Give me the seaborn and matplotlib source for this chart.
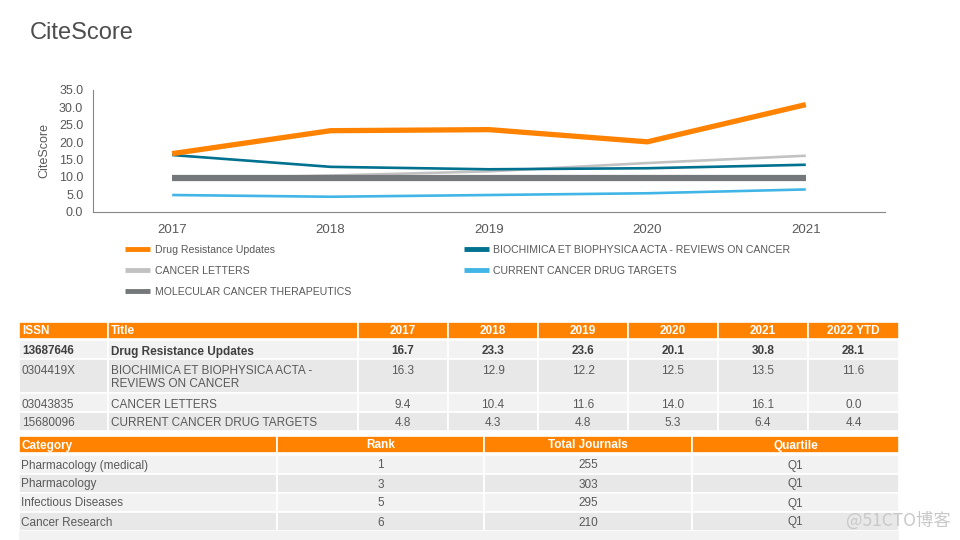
import matplotlib
matplotlib.use("Agg")
import matplotlib.pyplot as plt
from matplotlib.patches import Rectangle
from matplotlib.lines import Line2D
import seaborn as sns
import pandas as pd

# ---------------- data ----------------
years = ["2017", "2018", "2019", "2020", "2021"]
journals = [
    "Drug Resistance Updates",
    "BIOCHIMICA ET BIOPHYSICA ACTA - REVIEWS ON CANCER",
    "CANCER LETTERS",
    "CURRENT CANCER DRUG TARGETS",
    "MOLECULAR CANCER THERAPEUTICS",
]
dru = [16.7, 23.3, 23.6, 20.1, 30.8]
bba = [16.3, 12.9, 12.2, 12.5, 13.5]
cl = [9.4, 10.4, 11.6, 14.0, 16.1]
ccdt = [4.8, 4.3, 4.8, 5.3, 6.4]
mct = [9.8, 9.8, 9.8, 9.8, 9.8]

table_cols = ["ISSN", "Title", "2017", "2018", "2019", "2020", "2021", "2022 YTD"]
issns = ["13687646", "0304419X", "03043835", "15680096"]
titles = ["Drug Resistance Updates", "BIOCHIMICA ET BIOPHYSICA ACTA -\nREVIEWS ON CANCER",
          "CANCER LETTERS", "CURRENT CANCER DRUG TARGETS"]
ytd2022 = [28.1, 11.6, 0.0, 4.4]

cat_cols = ["Category", "Rank", "Total Journals", "Quartile"]
categories = ["Pharmacology (medical)", "Pharmacology", "Infectious Diseases", "Cancer Research"]
ranks = [1, 3, 5, 6]
totals = [255, 303, 295, 210]
quartiles = ["Q1", "Q1", "Q1", "Q1"]

colors = {
    journals[0]: "#FF8200",
    journals[1]: "#00718F",
    journals[2]: "#C2C2C2",
    journals[3]: "#41B6E6",
    journals[4]: "#75787B",
}
widths = {journals[0]: 3.8, journals[1]: 1.9, journals[2]: 1.9, journals[3]: 1.9, journals[4]: 4.5}

series = [dru, bba, cl, ccdt, mct]
df = pd.DataFrame([(j, y, v) for j, vals in zip(journals, series) for y, v in zip(years, vals)],
                  columns=["journal", "year", "value"])

# ---------------- style ----------------
sns.set_style("white")
plt.rcParams["font.family"] = ["Liberation Sans", "DejaVu Sans"]

W, H = 960, 540
fig = plt.figure(figsize=(9.6, 5.4), dpi=100)

def fx(px):
    return px / W

def fy(py):
    return 1 - py / H

# main axes
ax_l, ax_r, ax_t, ax_b = 93, 885, 90, 211.7
ax = fig.add_axes([fx(ax_l), fy(ax_b), fx(ax_r - ax_l), (ax_b - ax_t) / H])
sns.lineplot(data=df, x="year", y="value", hue="journal", size="journal",
             hue_order=journals, palette=colors, sizes=widths, size_order=journals,
             sort=False, ax=ax, legend=False)
zorders = {journals[0]: 6, journals[1]: 3, journals[2]: 2, journals[3]: 3, journals[4]: 4}
for ln, j in zip(ax.get_lines(), journals):
    ln.set_solid_capstyle("butt")
    ln.set_zorder(zorders[j])

ax.set_xlim(-0.5, 4.5)
ax.set_ylim(0, 35)
yt = [0, 5, 10, 15, 20, 25, 30, 35]
ax.set_yticks(yt)
ax.set_yticklabels([f"{v:.1f}" for v in yt])
ax.set_xticks(range(5))
ax.set_xticklabels(years)
ax.set_xticks([-0.5, 0.5, 1.5, 2.5, 3.5, 4.5], minor=True)
ax.tick_params(axis="x", which="major", length=0, pad=9, labelsize=9.5, labelcolor="#595959")
ax.tick_params(axis="x", which="minor", length=4, color="#868686", width=0.8, direction="out")
ax.tick_params(axis="y", length=4, color="#868686", width=0.8, direction="out",
               labelsize=9, labelcolor="#595959", pad=3)
ax.set_xlabel("")
ax.set_ylabel("CiteScore", fontsize=9, color="#595959", labelpad=6)
for s in ["top", "right"]:
    ax.spines[s].set_visible(False)
for s in ["left", "bottom"]:
    ax.spines[s].set_color("#868686")
    ax.spines[s].set_linewidth(0.8)

# legend
order = [journals[0], journals[2], journals[4], journals[1], journals[3]]
handles = [Line2D([], [], color=colors[j], lw=3.5, solid_capstyle="butt") for j in order]
fig.legend(handles, order, loc="upper left", bbox_to_anchor=(fx(125), fy(245)),
           ncol=2, frameon=False, fontsize=7.6, handlelength=2.4, handletextpad=0.4,
           labelspacing=1.05, columnspacing=10.7, borderpad=0, borderaxespad=0,
           labelcolor="#595959")

# overlay for title / tables
ov = fig.add_axes([0, 0, 1, 1], zorder=-1)
ov.set_xlim(0, W)
ov.set_ylim(H, 0)
ov.axis("off")

ov.text(30, 33, "CiteScore", fontsize=17, color="#4D4D4D", va="center", ha="left")

ORANGE = "#FF8200"
ROW_A = "#F2F2F2"
ROW_B = "#E8E8E8"
TXT = "#595959"
TXT_B = "#404040"

def cell(x0, y0, x1, y1, color):
    ov.add_patch(Rectangle((x0, y0), x1 - x0, y1 - y0, facecolor=color,
                           edgecolor="white", linewidth=1.2))

# table 1
c1 = [19, 108, 358, 448, 538, 628, 718, 808, 899]
rows1 = [(322, 339), (340, 359), (359, 393), (393, 412), (412, 431)]
hb = rows1[0][0] + 12.5
for i in range(len(table_cols)):
    cell(c1[i], rows1[0][0], c1[i + 1], rows1[0][1], ORANGE)
    if i < 2:
        ov.text(c1[i] + 3, hb, table_cols[i], color="white",
                fontsize=8.5, fontweight="bold", va="baseline", ha="left")
    else:
        ov.text((c1[i] + c1[i + 1]) / 2, hb, table_cols[i],
                color="white", fontsize=8.5, fontweight="bold", va="baseline", ha="center")

for r in range(4):
    y0, y1 = rows1[r + 1]
    bg = ROW_A if r % 2 == 0 else ROW_B
    for i in range(len(table_cols)):
        cell(c1[i], y0, c1[i + 1], y1, bg)
    bold = r == 0
    kw = dict(fontsize=8.5, color=TXT_B if bold else TXT, fontweight="bold" if bold else "normal",
              va="top", linespacing=1.15)
    ty = y0 + 5.5
    ov.text(c1[0] + 3, ty, issns[r], ha="left", **kw)
    ov.text(c1[1] + 3, ty, titles[r], ha="left", **kw)
    row_vals = [dru, bba, cl, ccdt][r] + [ytd2022[r]]
    for k, v in enumerate(row_vals):
        ov.text((c1[k + 2] + c1[k + 3]) / 2, ty, f"{v:.1f}", ha="center", **kw)

# table 2
c2 = [19, 277, 484, 692, 899]
rows2 = [(436, 453), (455, 474), (474, 493), (493, 512), (512, 531), (531, 541)]
hb2 = rows2[0][0] + 12.5
for i in range(len(cat_cols)):
    cell(c2[i], rows2[0][0], c2[i + 1], rows2[0][1], ORANGE)
    if i == 0:
        ov.text(c2[i] + 2, hb2, cat_cols[i], color="white",
                fontsize=8.5, fontweight="bold", va="baseline", ha="left")
    else:
        ov.text((c2[i] + c2[i + 1]) / 2, hb2, cat_cols[i],
                color="white", fontsize=8.5, fontweight="bold", va="baseline", ha="center")
for r in range(5):
    y0, y1 = rows2[r + 1]
    bg = ROW_A if r % 2 == 0 else ROW_B
    if r == 4:
        ov.add_patch(Rectangle((c2[0], y0), c2[-1] - c2[0], y1 - y0, facecolor=ROW_A,
                               edgecolor="none"))
        continue
    for i in range(len(cat_cols)):
        cell(c2[i], y0, c2[i + 1], y1, bg)
    yb = y0 + 13.5
    kw = dict(fontsize=8.5, color=TXT, va="baseline")
    ov.text(c2[0] + 2, yb, categories[r], ha="left", **kw)
    ov.text((c2[1] + c2[2]) / 2, yb, str(ranks[r]), ha="center", **kw)
    ov.text((c2[2] + c2[3]) / 2, yb, str(totals[r]), ha="center", **kw)
    ov.text((c2[3] + c2[4]) / 2, yb, quartiles[r], ha="center", **kw)

# watermark
fig.text(fx(951), fy(521), "@51CTO博客", ha="right", va="center", fontsize=12.5,
         color="#C8C8C8", family=["Noto Sans CJK SC", "DejaVu Sans"], zorder=10)

fig.savefig("out.png", dpi=100)
